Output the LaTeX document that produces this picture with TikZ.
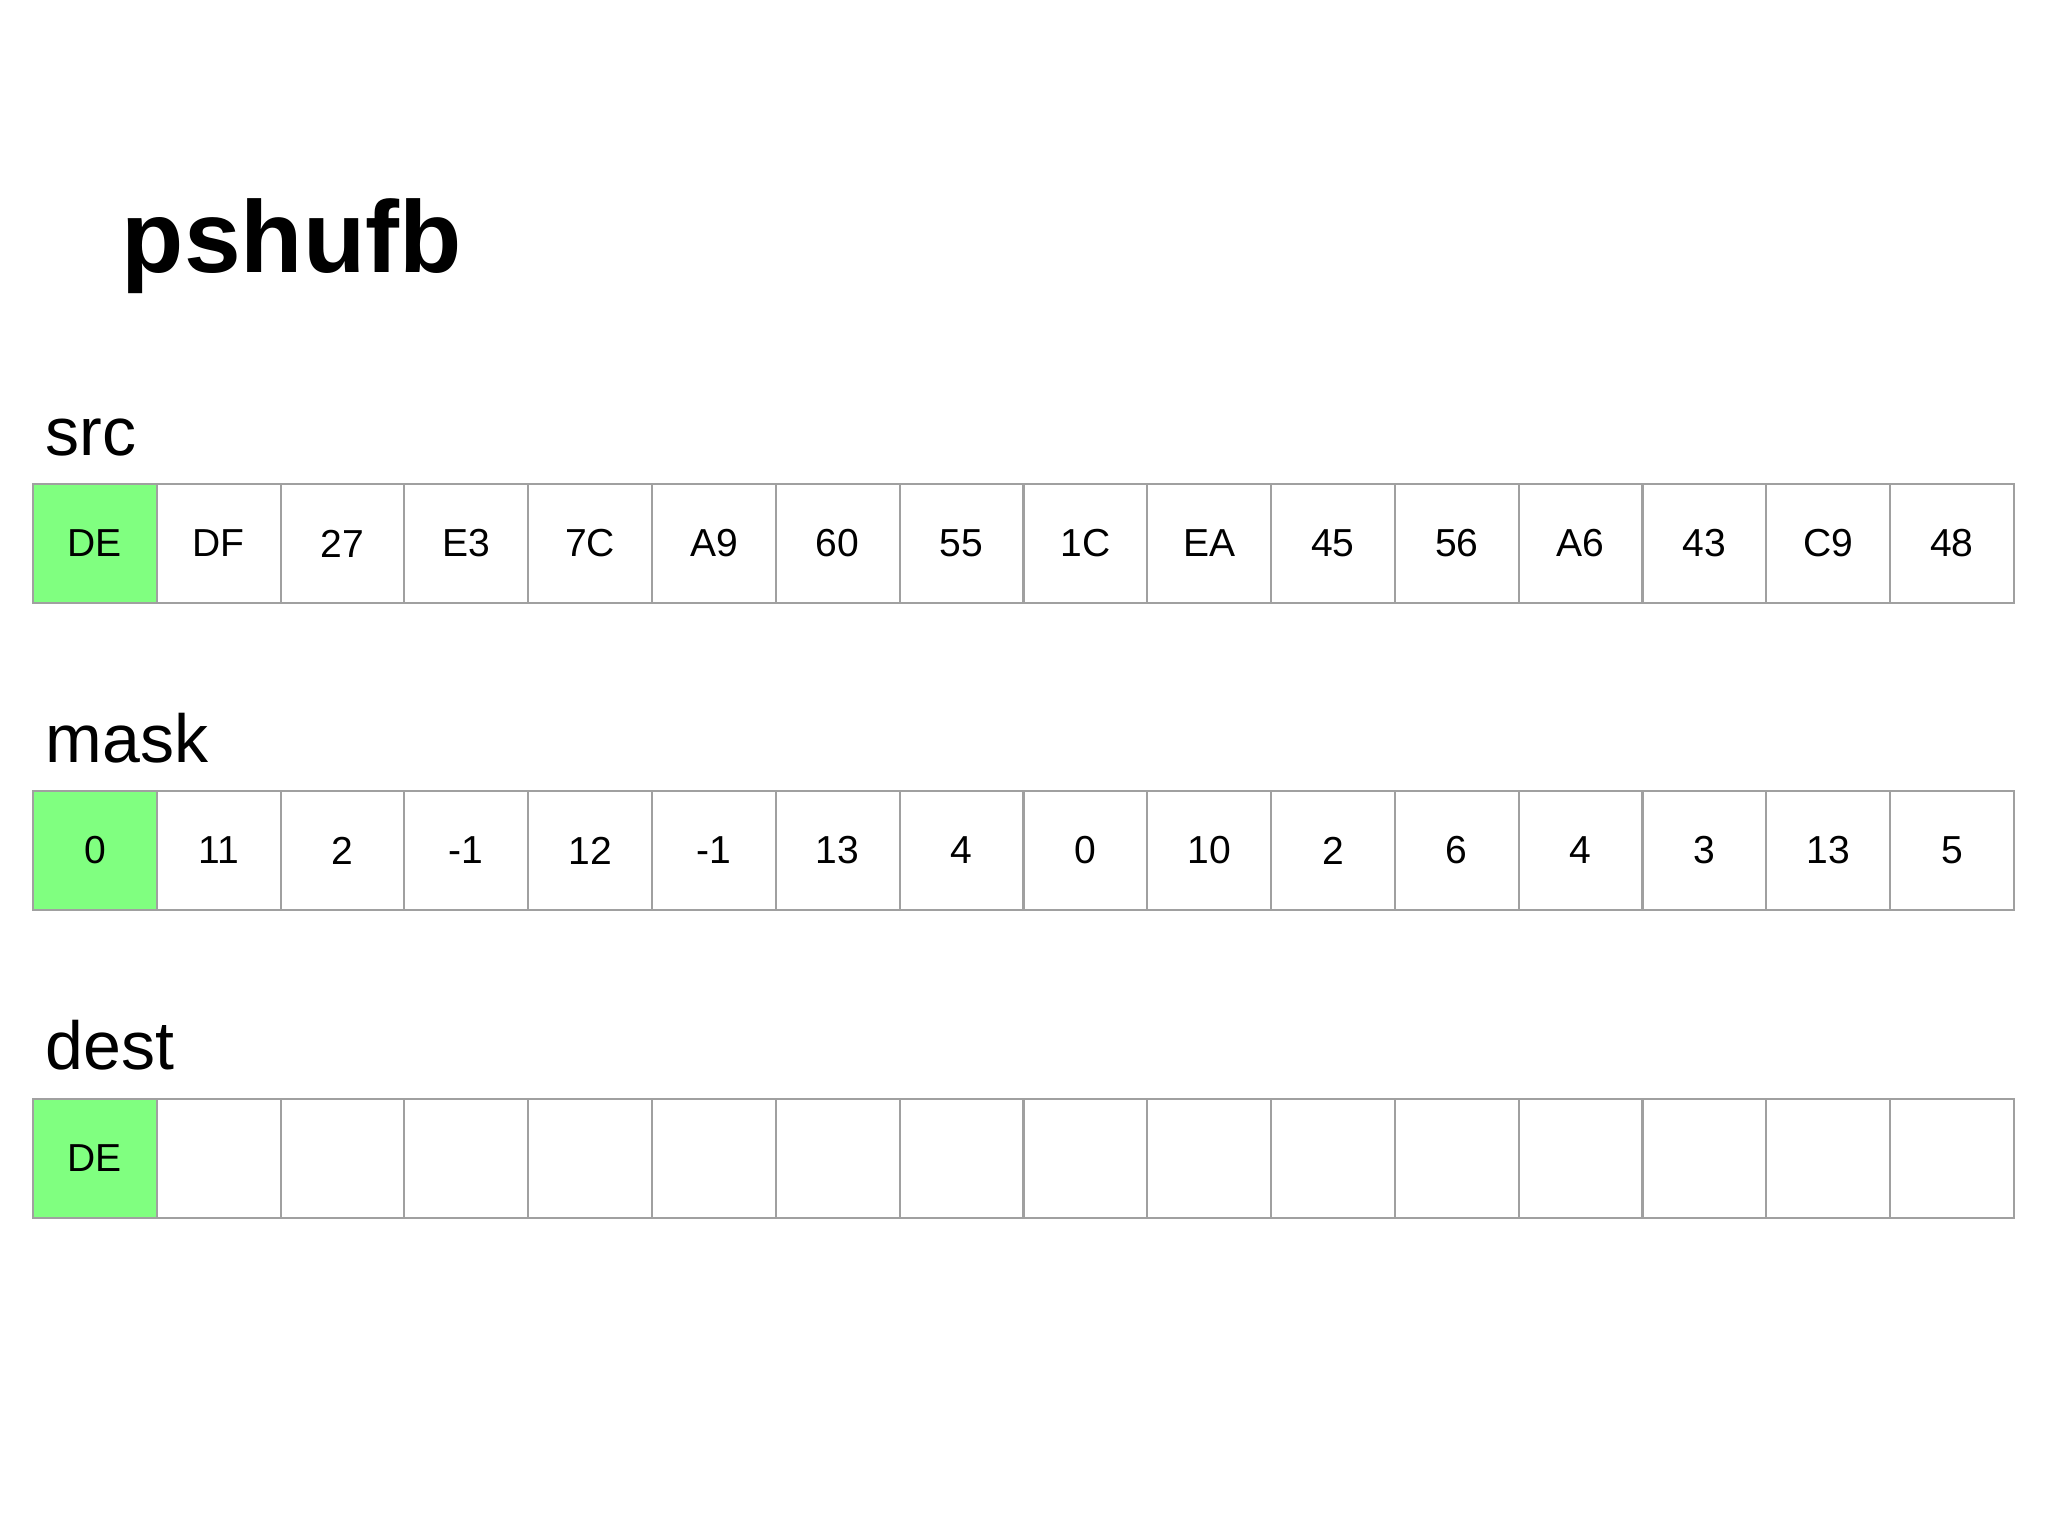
\documentclass[tikz,border=0pt]{standalone}
\usepackage{fontspec}
\setmainfont{Liberation Sans}
\definecolor{hitgreen}{HTML}{80FF80}
\definecolor{cellline}{HTML}{A0A0A0}
\tikzset{
  cell/.style={draw=cellline, line width=0.6pt, minimum width=1.238cm,
    minimum height=1.19cm, inner sep=0pt, font=\fontsize{11.1}{13}\selectfont},
  hit/.style={fill=hitgreen},
  rowlabel/.style={anchor=base west, inner sep=0pt, font=\fontsize{19.35}{23}\selectfont}
}

\begin{document}
\begin{tikzpicture}[x=0.01cm, y=-0.01cm]
    \useasboundingbox (0,0) rectangle (2048,1536);
    \node[anchor=base west, inner sep=0pt, font=\fontsize{29}{35}\selectfont\bfseries] (title) at (121,272) {pshufb};
    % src row
    \node[rowlabel] (srclabel) at (45,455) {src};
    \node[cell, hit] (src0) at (94.9,543.5) {DE};
    \foreach \t [count=\i] in {DF,27,E3,7C,A9,60,55,1C,EA,45,56,A6,43,C9,48}
        \node[cell] (src\i) at ({33+123.8*(\i+0.5)},543.5) {\t};
    % mask row
    \node[rowlabel] (masklabel) at (45,762) {mask};
    \node[cell, hit] (mask0) at (94.9,850.5) {0};
    \foreach \t [count=\i] in {11,2,-1,12,-1,13,4,0,10,2,6,4,3,13,5}
        \node[cell] (mask\i) at ({33+123.8*(\i+0.5)},850.5) {\t};
    % dest row
    \node[rowlabel] (destlabel) at (45,1069) {dest};
    \node[cell, hit] (dest0) at (94.9,1158.5) {DE};
    \foreach \i in {1,...,15}
        \node[cell] (dest\i) at ({33+123.8*(\i+0.5)},1158.5) {};
\end{tikzpicture}
\end{document}
